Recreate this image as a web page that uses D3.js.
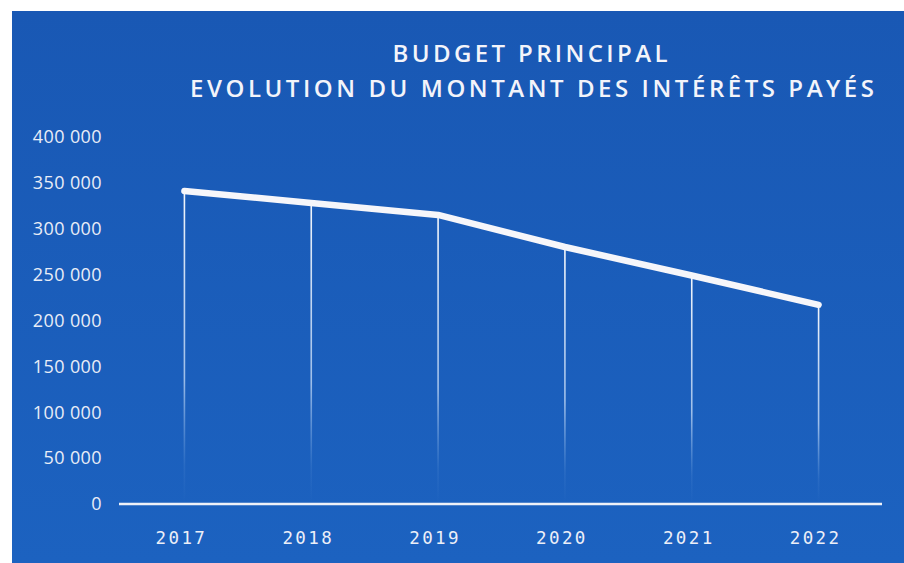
<!DOCTYPE html>
<html>
<head>
<meta charset="utf-8">
<script src="https://cdn.jsdelivr.net/npm/d3@7"></script>
<style>
  body { margin: 0; background: #fff; }
  svg { display: block; }
</style>
</head>
<body>
<svg id="chart" width="904" height="563"></svg>
<script>
const years = ['2017', '2018', '2019', '2020', '2021', '2022'];
const interets = [340000, 327000, 314000, 279000, 248000, 216000];
const yTicks = [0, 50000, 100000, 150000, 200000, 250000, 300000, 350000, 400000];
const titleLines = ['BUDGET PRINCIPAL', 'EVOLUTION DU MONTANT DES INTÉRÊTS PAYÉS'];
const titleWidths = [275, 684];

const W = 904;
const H = 563;
const margin = { top: 136, right: 22, bottom: 60, left: 121 };

const svg = d3.select('#chart');
const defs = svg.append('defs');

const bg = defs.append('linearGradient')
  .attr('id', 'bg').attr('x1', 0).attr('y1', 0).attr('x2', 0).attr('y2', 1);
bg.append('stop').attr('offset', '0%').attr('stop-color', '#1958b4');
bg.append('stop').attr('offset', '100%').attr('stop-color', '#1c62c0');

svg.append('rect')
  .attr('x', 12).attr('y', 11)
  .attr('width', W - 12).attr('height', H - 11)
  .attr('fill', 'url(#bg)');

const x = d3.scaleBand()
  .domain(years)
  .range([margin.left, W - margin.right]);

const y = d3.scaleLinear()
  .domain([0, 400000])
  .range([H - margin.bottom, margin.top]);

const fmt = d => d3.format(',')(d).replace(/,/g, ' ');

// title
svg.append('g')
  .selectAll('text')
  .data(titleLines)
  .join('text')
  .attr('x', (d, i) => (i === 0 ? 530 : 532))
  .attr('y', (d, i) => 62 + i * 35)
  .attr('text-anchor', 'middle')
  .attr('fill', '#f3f4fa')
  .attr('font-family', 'Open Sans, sans-serif')
  .attr('font-weight', 600)
  .attr('font-size', 24)
  .attr('textLength', (d, i) => titleWidths[i])
  .attr('lengthAdjust', 'spacing')
  .text(d => d);

// y axis labels
const yAxis = svg.append('g')
  .attr('transform', `translate(${margin.left - 19},0)`)
  .call(d3.axisLeft(y).tickValues(yTicks).tickFormat(fmt).tickSize(0).tickPadding(0));
yAxis.select('.domain').remove();
yAxis.selectAll('text')
  .attr('fill', '#e9edf7')
  .attr('font-family', 'Open Sans, sans-serif')
  .attr('font-size', 18)
  .attr('letter-spacing', 0.4)
  .attr('dy', '0.38em');

// drop lines
const drop = defs.append('linearGradient')
  .attr('id', 'drop').attr('x1', 0).attr('y1', 0).attr('x2', 0).attr('y2', 1);
drop.append('stop').attr('offset', '0%').attr('stop-color', '#ffffff').attr('stop-opacity', 0.95);
drop.append('stop').attr('offset', '60%').attr('stop-color', '#d6e7fc').attr('stop-opacity', 0.7);
drop.append('stop').attr('offset', '88%').attr('stop-color', '#9ec4f0').attr('stop-opacity', 0.1);
drop.append('stop').attr('offset', '100%').attr('stop-color', '#9ec4f0').attr('stop-opacity', 0);

const cx = d => x(d) + x.bandwidth() / 2;

svg.append('g')
  .selectAll('rect')
  .data(years)
  .join('rect')
  .attr('x', d => cx(d) - 0.8)
  .attr('y', (d, i) => y(interets[i]))
  .attr('width', 1.6)
  .attr('height', (d, i) => y(0) - y(interets[i]))
  .attr('fill', 'url(#drop)');

// baseline
svg.append('line')
  .attr('x1', margin.left - 2).attr('x2', W - margin.right)
  .attr('y1', y(0) + 1).attr('y2', y(0) + 1)
  .attr('stroke', '#eef1f8')
  .attr('stroke-width', 2.5);

// x axis labels
const xAxis = svg.append('g')
  .attr('transform', `translate(0,${y(0) + 29})`)
  .call(d3.axisBottom(x).tickSize(0).tickPadding(0));
xAxis.select('.domain').remove();
xAxis.selectAll('text')
  .attr('fill', '#eceff8')
  .attr('font-family', 'DejaVu Sans Mono, monospace')
  .attr('font-size', 17.5)
  .attr('letter-spacing', 2.4)
  .attr('dx', -3);

// main line
const line = d3.line()
  .x(d => cx(d[0]))
  .y(d => y(d[1]));

svg.append('path')
  .datum(years.map((d, i) => [d, interets[i]]))
  .attr('d', line)
  .attr('fill', 'none')
  .attr('stroke', '#f6f6fa')
  .attr('stroke-width', 6.5)
  .attr('stroke-linecap', 'round')
  .attr('stroke-linejoin', 'round');
</script>
</body>
</html>
